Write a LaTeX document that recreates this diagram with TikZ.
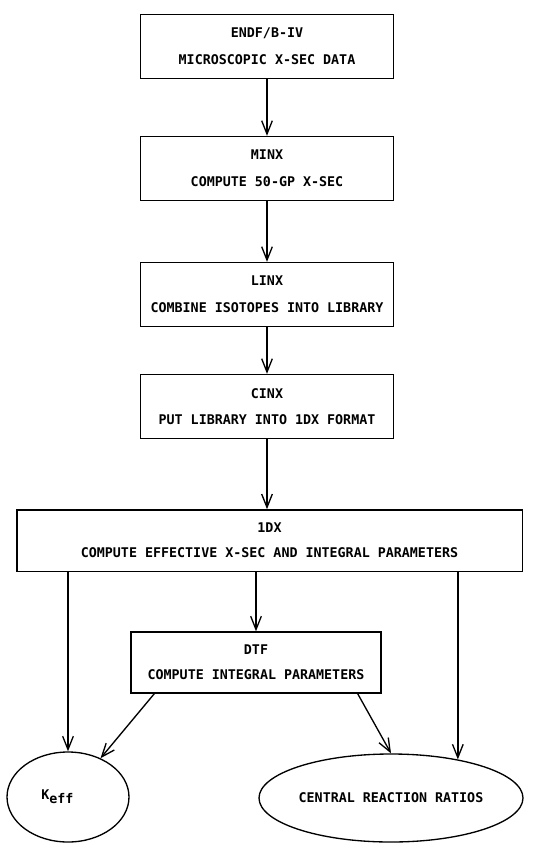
\documentclass[tikz,border=0pt]{standalone}
\usepackage{fontspec}
\newfontfamily\flowfont{DejaVu Sans Mono}
\usetikzlibrary{arrows.meta,shapes.geometric}

\tikzset{
  procbox/.style={draw, line width=1pt, align=center, font=\flowfont\bfseries, inner sep=0pt,
    minimum width=190pt, minimum height=48pt},
  resultoval/.style={draw, ellipse, line width=1pt, font=\flowfont\bfseries, inner sep=0pt},
  flow/.style={line width=1pt, -{Straight Barb[length=10pt,width=8pt]}}
}

\begin{document}
\begin{tikzpicture}[x=0.75pt, y=-0.75pt]
  \useasboundingbox (0,0) rectangle (537,843);

  % Code chain
  \node[procbox] (endf) at (267,46.5) {ENDF/B-IV\\[8pt]MICROSCOPIC X-SEC DATA};
  \node[procbox] (minx) at (267,168.5) {MINX\\[8pt]COMPUTE 50-GP X-SEC};
  \node[procbox] (linx) at (267,294.5) {LINX\\[8pt]COMBINE ISOTOPES INTO LIBRARY};
  \node[procbox] (cinx) at (267,406.5) {CINX\\[8pt]PUT LIBRARY INTO 1DX FORMAT};
  \node[procbox, minimum width=379pt, minimum height=46pt] (onedx) at (269.5,540.5)
    {1DX\\[7pt]COMPUTE EFFECTIVE X-SEC AND INTEGRAL PARAMETERS};
  \node[procbox, minimum width=187.5pt, minimum height=45.75pt] (dtf) at (256,662.5)
    {DTF\\[7pt]COMPUTE INTEGRAL PARAMETERS};

  % Results
  \node[resultoval, minimum width=91.5pt, minimum height=67.5pt] (keff) at (68,797)
    {K\raisebox{-3pt}{eff}\hspace*{16pt}};
  \node[resultoval, minimum width=198pt, minimum height=66pt] (crr) at (391,798)
    {CENTRAL REACTION RATIOS};

  % Flow
  \draw[flow] (endf) -- (minx);
  \draw[flow] (minx) -- (linx);
  \draw[flow] (linx) -- (cinx);
  \draw[flow] (cinx.south) -- (cinx.south |- onedx.north);
  \draw[flow] (dtf.north |- onedx.south) -- (dtf.north);
  \draw[flow] (keff.north |- onedx.south) -- (keff.north);
  \draw[flow] (crr.30 |- onedx.south) -- (crr.30);
  \draw[flow] ([xshift=18pt]dtf.south west) -- (keff.50);
  \draw[flow] ([xshift=-18pt]dtf.south east) -- (crr.north);
\end{tikzpicture}
\end{document}
